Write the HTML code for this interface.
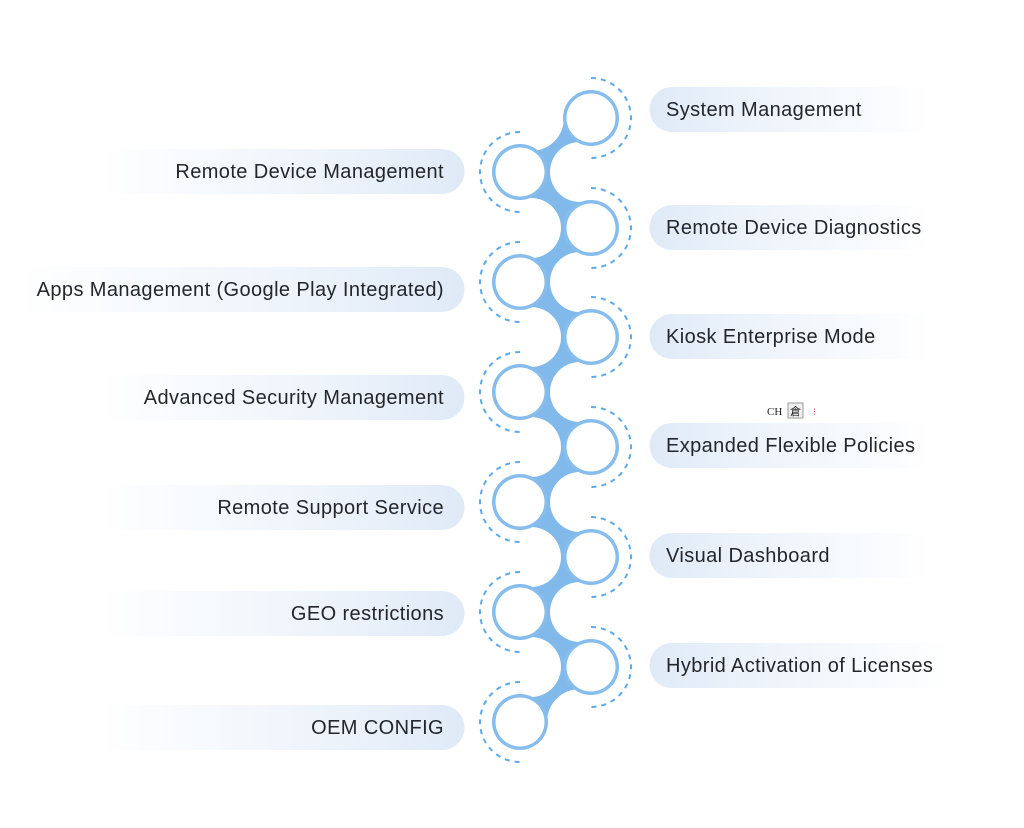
<!DOCTYPE html>
<html><head><meta charset="utf-8"><style>
html,body{margin:0;padding:0;background:#fff;}
svg{display:block;}
text.l{font-family:"Liberation Sans",sans-serif;font-size:20px;letter-spacing:0.4px;fill:#23262b;}
</style></head><body>
<svg width="1024" height="828" viewBox="0 0 1024 828" xmlns="http://www.w3.org/2000/svg">
<defs>
<linearGradient id="gl" x1="0" x2="1" y1="0" y2="0">
<stop offset="0" stop-color="#eef4fb" stop-opacity="0"/>
<stop offset="0.4" stop-color="#f1f6fc" stop-opacity="0.8"/>
<stop offset="1" stop-color="#dfeaf7"/>
</linearGradient>
<linearGradient id="gr" x1="1" x2="0" y1="0" y2="0">
<stop offset="0" stop-color="#eef4fb" stop-opacity="0"/>
<stop offset="0.4" stop-color="#f1f6fc" stop-opacity="0.8"/>
<stop offset="1" stop-color="#dfeaf7"/>
</linearGradient>
</defs>

<g>
<path d="M100 149 H442 a22.5 22.5 0 0 1 0 45 H100 Z" fill="url(#gl)"/>
<path d="M20 267 H442 a22.5 22.5 0 0 1 0 45 H20 Z" fill="url(#gl)"/>
<path d="M100 375 H442 a22.5 22.5 0 0 1 0 45 H100 Z" fill="url(#gl)"/>
<path d="M100 485 H442 a22.5 22.5 0 0 1 0 45 H100 Z" fill="url(#gl)"/>
<path d="M100 591 H442 a22.5 22.5 0 0 1 0 45 H100 Z" fill="url(#gl)"/>
<path d="M100 705 H442 a22.5 22.5 0 0 1 0 45 H100 Z" fill="url(#gl)"/>
</g>
<g text-anchor="end">
<text class="l" x="444" y="178">Remote Device Management</text>
<text class="l" x="444" y="296">Apps Management (Google Play Integrated)</text>
<text class="l" x="444" y="404">Advanced Security Management</text>
<text class="l" x="444" y="514">Remote Support Service</text>
<text class="l" x="444" y="620">GEO restrictions</text>
<text class="l" x="444" y="734">OEM CONFIG</text>
</g>

<g>
<path d="M930 87 H672 a22.5 22.5 0 0 0 0 45 H930 Z" fill="url(#gr)"/>
<path d="M930 205 H672 a22.5 22.5 0 0 0 0 45 H930 Z" fill="url(#gr)"/>
<path d="M930 314 H672 a22.5 22.5 0 0 0 0 45 H930 Z" fill="url(#gr)"/>
<path d="M930 423 H672 a22.5 22.5 0 0 0 0 45 H930 Z" fill="url(#gr)"/>
<path d="M930 533 H672 a22.5 22.5 0 0 0 0 45 H930 Z" fill="url(#gr)"/>
<path d="M950 643 H672 a22.5 22.5 0 0 0 0 45 H950 Z" fill="url(#gr)"/>
</g>
<g>
<text class="l" x="666" y="116">System Management</text>
<text class="l" x="666" y="234">Remote Device Diagnostics</text>
<text class="l" x="666" y="343">Kiosk Enterprise Mode</text>
<text class="l" x="666" y="452">Expanded Flexible Policies</text>
<text class="l" x="666" y="562">Visual Dashboard</text>
<text class="l" x="666" y="672">Hybrid Activation of Licenses</text>
</g>

<g>
<text x="767" y="415" style="font-family:'Liberation Serif',serif;font-size:11px;fill:#222">CH</text>
<rect x="788" y="403" width="15" height="15" fill="#eee" stroke="#999" stroke-width="1"/>
<text x="790" y="415" style="font-family:'Noto Sans CJK SC',sans-serif;font-size:11px;fill:#222">倉</text>
<text x="813" y="415" style="font-family:'Liberation Sans',sans-serif;font-size:10px;fill:#c55">⁝</text>
</g>

<rect x="520" y="118" width="71" height="604" fill="#80b9ea"/>
<g fill="#fff">
<circle cx="580" cy="172" r="30"/><circle cx="580" cy="282" r="30"/>
<circle cx="580" cy="392" r="30"/><circle cx="580" cy="502" r="30"/>
<circle cx="580" cy="612" r="30"/><circle cx="580" cy="722" r="33"/>
<circle cx="531" cy="118" r="33"/>
<circle cx="531" cy="228" r="30"/><circle cx="531" cy="337" r="30"/>
<circle cx="531" cy="447" r="30"/><circle cx="531" cy="557" r="30"/>
<circle cx="531" cy="667" r="30"/>
</g>

<g fill="none" stroke="#5ea9e8" stroke-width="2" stroke-dasharray="5 5">
<path d="M591 78 A40 40 0 0 1 591 158"/>
<path d="M591 188 A40 40 0 0 1 591 268"/>
<path d="M591 297 A40 40 0 0 1 591 377"/>
<path d="M591 407 A40 40 0 0 1 591 487"/>
<path d="M591 517 A40 40 0 0 1 591 597"/>
<path d="M591 627 A40 40 0 0 1 591 707"/>
<path d="M520 132 A40 40 0 0 0 520 212"/>
<path d="M520 242 A40 40 0 0 0 520 322"/>
<path d="M520 352 A40 40 0 0 0 520 432"/>
<path d="M520 462 A40 40 0 0 0 520 542"/>
<path d="M520 572 A40 40 0 0 0 520 652"/>
<path d="M520 682 A40 40 0 0 0 520 762"/>
</g>

<g fill="#86bdec">
<circle cx="591" cy="118" r="28"/><circle cx="520" cy="172" r="28"/>
<circle cx="591" cy="228" r="28"/><circle cx="520" cy="282" r="28"/>
<circle cx="591" cy="337" r="28"/><circle cx="520" cy="392" r="28"/>
<circle cx="591" cy="447" r="28"/><circle cx="520" cy="502" r="28"/>
<circle cx="591" cy="557" r="28"/><circle cx="520" cy="612" r="28"/>
<circle cx="591" cy="667" r="28"/><circle cx="520" cy="722" r="28"/>
</g>
<g fill="#fff">
<circle cx="591" cy="118" r="24.5"/><circle cx="520" cy="172" r="24.5"/>
<circle cx="591" cy="228" r="24.5"/><circle cx="520" cy="282" r="24.5"/>
<circle cx="591" cy="337" r="24.5"/><circle cx="520" cy="392" r="24.5"/>
<circle cx="591" cy="447" r="24.5"/><circle cx="520" cy="502" r="24.5"/>
<circle cx="591" cy="557" r="24.5"/><circle cx="520" cy="612" r="24.5"/>
<circle cx="591" cy="667" r="24.5"/><circle cx="520" cy="722" r="24.5"/>
</g>
</svg>
</body></html>
